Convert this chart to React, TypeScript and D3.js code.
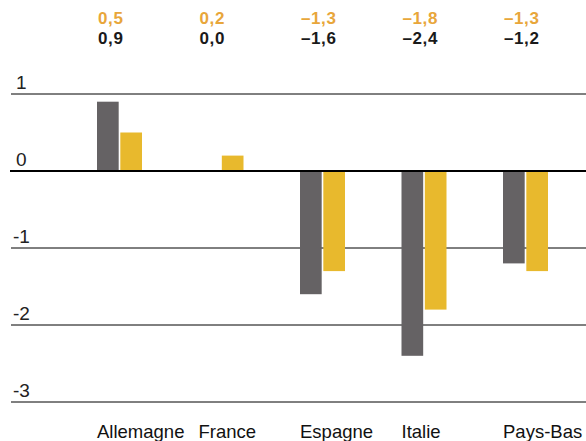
import React from 'react';
import * as d3 from 'd3';

const categories = ['Allemagne', 'France', 'Espagne', 'Italie', 'Pays-Bas'];
const seriesGray = [0.9, 0.0, -1.6, -2.4, -1.2];
const seriesYellow = [0.5, 0.2, -1.3, -1.8, -1.3];
const yTicks = [1, 0, -1, -2, -3];

const W = 586;
const H = 441;

const GRAY = '#656264';
const YELLOW = '#E8B92D';
const YELLOW_TEXT = '#E8A63A';
const FONT = '"Liberation Sans", Arial, sans-serif';

const fmt = (v: number) => v.toFixed(1).replace('.', ',').replace('-', '\u2013');

export default function App() {
  const y = d3.scaleLinear().domain([-3, 1]).range([402, 94]);
  const x = d3.scalePoint<string>().domain(categories).range([97, 503]);
  const x1 = d3.scaleBand<string>().domain(['gray', 'yellow']).range([0, 45]).paddingInner(0.07);

  const bar = (cat: string, key: string, v: number, fill: string) => {
    if (v === 0) return null;
    const top = y(Math.max(0, v));
    const h = Math.abs(y(v) - y(0));
    return (
      <rect
        key={cat + key}
        x={(x(cat) as number) + (x1(key) as number)}
        y={top}
        width={x1.bandwidth()}
        height={h}
        fill={fill}
      />
    );
  };

  return (
    <svg
      width={W}
      height={H}
      style={{ position: 'absolute', left: 0, top: 0, background: '#fff' }}
      fontFamily={FONT}
    >
      {/* gridlines */}
      {yTicks.filter(t => t !== 0).map(t => (
        <line key={'t' + t} x1={11} x2={W} y1={y(t)} y2={y(t)} stroke="#000" strokeWidth={1} />
      ))}
      {yTicks.map(t => (
        <text
          key={'l' + t}
          x={t < 0 ? 13 : 16}
          y={y(t) - 5}
          fontSize={19}
          fill="#222"
        >
          {t < 0 ? '-' + Math.abs(t) : String(t)}
        </text>
      ))}

      {/* bars */}
      {categories.map((c, i) => bar(c, 'gray', seriesGray[i], GRAY))}
      {categories.map((c, i) => bar(c, 'yellow', seriesYellow[i], YELLOW))}

      {/* zero line */}
      <line x1={10} x2={W} y1={y(0)} y2={y(0)} stroke="#000" strokeWidth={2.2} />

      {/* values on top */}
      {categories.map((c, i) => (
        <g key={'v' + c}>
          <text x={(x(c) as number) + 1} y={24} fontSize={17} letterSpacing={0.6} fontWeight="bold" fill={YELLOW_TEXT}>
            {fmt(seriesYellow[i])}
          </text>
          <text x={(x(c) as number) + 1} y={44} fontSize={17} letterSpacing={0.6} fontWeight="bold" fill="#1a1a1a">
            {fmt(seriesGray[i])}
          </text>
        </g>
      ))}

      {/* category labels */}
      {categories.map(c => (
        <text key={'c' + c} x={x(c) as number} y={438} fontSize={18.5} fill="#111">
          {c}
        </text>
      ))}
    </svg>
  );
}
